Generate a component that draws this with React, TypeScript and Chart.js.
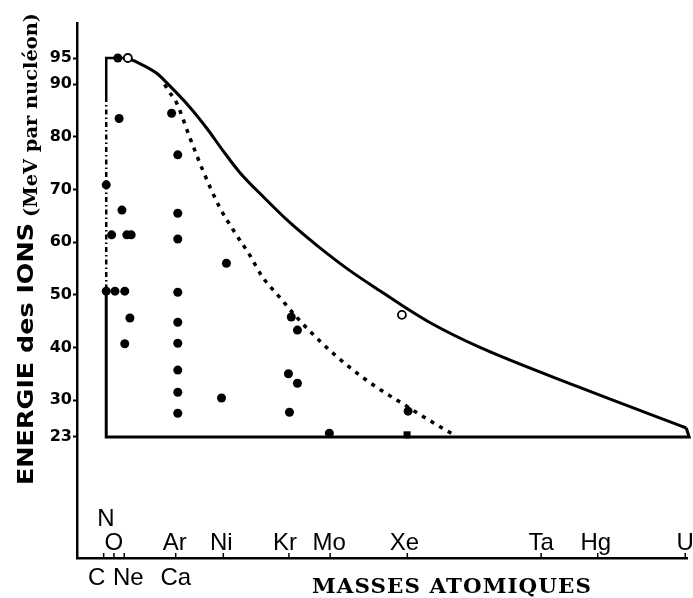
import React, { useEffect, useRef } from "react";
import { Chart, registerables } from "chart.js";

Chart.register(...registerables);

// ---------- data ----------
const Y_TICKS = [23, 30, 40, 50, 60, 70, 80, 90, 95];

const TICK_POS = [12, 16, 20, 40, 58.5, 84, 100, 130, 182, 204, 238];
const LABELS_ABOVE = ["N", "O", "Ar", "Ni", "Kr", "Mo", "Xe", "Ta", "Hg", "U"];
const LABELS_ABOVE_POS = [14, 16, 40, 58.5, 84, 100, 130, 182, 204, 238];
const LABELS_BELOW = ["C", "Ne", "Ca"];
const LABELS_BELOW_POS = [12, 20, 40];

const Y_TITLE_MAIN = "ENERGIE des IONS";
const Y_TITLE_UNIT = "(MeV par nucléon)";
const X_TITLE = "MASSES ATOMIQUES";

// upper envelope (solid curve)
const ENV_MASS = [21.4, 24.1, 32.6, 37.7, 45.4, 52.0, 58.2, 64.8, 74.5, 84.2, 94.6, 107.4, 120.2, 129.5, 139.6, 157.8, 196.5, 238.4];
const ENV_E = [95.0, 94.4, 92.1, 89.7, 85.7, 81.7, 77.5, 73.3, 68.4, 63.8, 59.5, 54.7, 50.5, 47.5, 44.5, 40.1, 32.5, 24.7];

// frame: top-left corner, left side, bottom line, right hook
const FRAME_TOP_MASS = [13, 13, 21.4];
const FRAME_TOP_E = [87.6, 95, 95];
const FRAME_DOT_MASS = [13, 13];
const FRAME_DOT_E = [87.6, 50.4];
const FRAME_LOW_MASS = [238.4, 239.5, 13, 13];
const FRAME_LOW_E = [24.7, 23, 23, 50.4];

// dotted curve
const DOT_MASS = [35.7, 37.0, 40.4, 45.4, 50.5, 57.0, 62.9, 68.7, 73.7, 80.3, 86.9, 96.9, 107.4, 117.9, 127.9, 138.4, 148.1];
const DOT_E = [90.0, 88.9, 86.4, 80.0, 73.7, 66.7, 61.9, 57.6, 53.4, 49.6, 45.8, 40.8, 36.3, 32.5, 29.4, 26.2, 23.4];

// measured points (filled)
const PTS_MASS = [17.5, 18.0, 13, 19.1, 15.1, 21.0, 22.7, 13, 16.4, 20.2, 22.2, 20.2,
  38.4, 40.8, 40.8, 40.8, 40.8, 40.8, 40.8, 40.8, 40.8, 40.8,
  59.7, 57.8, 84.9, 87.3, 83.8, 87.3, 84.2, 99.7, 130.3];
const PTS_E = [95, 83.5, 70.9, 66.1, 61.4, 61.4, 61.4, 50.7, 50.7, 50.7, 45.6, 40.7,
  84.5, 76.6, 65.5, 60.6, 50.5, 44.8, 40.8, 35.7, 31.5, 27.5,
  56.0, 30.4, 45.8, 43.3, 35.0, 33.2, 27.7, 23.7, 27.9];
// open circles
const OPEN_MASS = [21.4, 127.9];
const OPEN_E = [95.0, 46.2];
// square mark
const SQ_MASS = [129.9];
const SQ_E = [23.4];

const X_MIN = 1.64;
const X_MAX = 238.76;
const Y_MIN = 0;
const Y_MAX = 101.65;

const zip = (xs: number[], ys: number[]) => xs.map((x, i) => ({ x, y: ys[i] }));

const LABEL_DX: Record<string, number> = { N: -3, O: 0, Ar: -1, Ni: -2, Kr: -4, Mo: -1, Xe: -3, Ta: 0, Hg: -2, U: 0, C: -7, Ne: 4, Ca: 0 };

const textPlugin = {
  id: "textPlugin",
  afterDraw(chart: any) {
    const { ctx, scales } = chart;
    const xs = scales.x;
    const bottom = chart.chartArea.bottom;
    ctx.save();
    ctx.fillStyle = "#000";
    ctx.strokeStyle = "#000";
    // small tick marks on the x axis (pointing up)
    ctx.lineWidth = 1.5;
    TICK_POS.forEach((v) => {
      const px = xs.getPixelForValue(v);
      ctx.beginPath();
      ctx.moveTo(px, bottom);
      ctx.lineTo(px, bottom - 5);
      ctx.stroke();
    });
    // element labels
    ctx.font = '24px "Liberation Sans"';
    ctx.textAlign = "center";
    ctx.textBaseline = "alphabetic";
    LABELS_ABOVE.forEach((t, i) => {
      const px = xs.getPixelForValue(LABELS_ABOVE_POS[i]) + (LABEL_DX[t] || 0);
      ctx.fillText(t, px, t === "N" ? 526 : 550);
    });
    LABELS_BELOW.forEach((t, i) => {
      const px = xs.getPixelForValue(LABELS_BELOW_POS[i]) + (LABEL_DX[t] || 0);
      ctx.fillText(t, px, 585);
    });
    // x title
    ctx.font = 'bold 20px "DejaVu Serif"';
    try { (ctx as any).letterSpacing = "1px"; } catch (e) {}
    let w = ctx.measureText(X_TITLE).width;
    ctx.save();
    ctx.translate(452, 593);
    ctx.scale(280 / w, 1);
    ctx.fillText(X_TITLE, 0, 0);
    ctx.restore();
    try { (ctx as any).letterSpacing = "0px"; } catch (e) {}
    // y title
    ctx.textAlign = "left";
    ctx.save();
    ctx.translate(33, 485);
    ctx.rotate(-Math.PI / 2);
    ctx.font = 'bold 22px "DejaVu Sans"';
    w = ctx.measureText(Y_TITLE_MAIN).width;
    ctx.scale(262 / w, 1);
    ctx.fillText(Y_TITLE_MAIN, 0, 0);
    ctx.restore();
    ctx.save();
    ctx.translate(37, 217);
    ctx.rotate(-Math.PI / 2);
    ctx.font = 'bold 19px "DejaVu Serif"';
    w = ctx.measureText(Y_TITLE_UNIT).width;
    ctx.scale(204 / w, 1);
    ctx.fillText(Y_TITLE_UNIT, 0, 0);
    ctx.restore();
    ctx.restore();
  },
};

export default function App() {
  const ref = useRef<HTMLCanvasElement | null>(null);
  useEffect(() => {
    if (!ref.current) return;
    const lineBase = { showLine: true, pointRadius: 0, borderColor: "#000", fill: false, clip: false as any };
    const chart = new Chart(ref.current, {
      type: "scatter",
      data: {
        datasets: [
          { data: zip(OPEN_MASS, OPEN_E), pointRadius: 4, pointBackgroundColor: "#fff", pointBorderColor: "#000", pointBorderWidth: 1.8, clip: false as any },
          { data: zip(SQ_MASS, SQ_E), pointStyle: "rect", pointRadius: 5, pointBackgroundColor: "#000", pointBorderWidth: 0, clip: false as any },
          { data: zip(PTS_MASS, PTS_E), pointRadius: 4.5, pointBackgroundColor: "#000", pointBorderWidth: 0, clip: false as any },
          { ...lineBase, data: zip(ENV_MASS, ENV_E), borderWidth: 3, cubicInterpolationMode: "monotone" },
          { ...lineBase, data: zip(DOT_MASS, DOT_E), borderWidth: 3.5, cubicInterpolationMode: "monotone", borderDash: [4, 6] },
          { ...lineBase, data: zip(FRAME_TOP_MASS, FRAME_TOP_E), borderWidth: 2.5, tension: 0 },
          { ...lineBase, data: zip(FRAME_DOT_MASS, FRAME_DOT_E), borderWidth: 2.5, tension: 0, borderDash: [5, 3, 1.5, 3] },
          { ...lineBase, data: zip(FRAME_LOW_MASS, FRAME_LOW_E), borderWidth: 3, tension: 0 },
        ] as any,
      },
      options: {
        animation: false,
        responsive: false,
        devicePixelRatio: 1,
        layout: { padding: { top: 23, right: 4, left: 0, bottom: 0 } },
        plugins: { legend: { display: false }, tooltip: { enabled: false } },
        scales: {
          x: {
            type: "linear",
            min: X_MIN,
            max: X_MAX,
            afterFit: (s: any) => { s.height = 40; },
            afterBuildTicks: (s: any) => { s.ticks = TICK_POS.map((v) => ({ value: v })); },
            ticks: { display: false },
            grid: { display: false, drawTicks: false },
            border: { display: true, color: "#000", width: 2.5 },
          },
          y: {
            type: "linear",
            min: Y_MIN,
            max: Y_MAX,
            afterFit: (s: any) => { s.width = 77; },
            afterBuildTicks: (s: any) => { s.ticks = Y_TICKS.map((v) => ({ value: v })); },
            ticks: {
              autoSkip: false,
              color: "#000",
              padding: 1,
              font: { family: "DejaVu Sans", weight: "bold", size: 16 },
              callback: (v: any) => String(v),
            },
            grid: { drawOnChartArea: false, drawTicks: true, tickLength: 4, tickWidth: 2, tickColor: "#000", color: "#000" },
            border: { display: true, color: "#000", width: 2.5 },
          },
        },
      } as any,
      plugins: [textPlugin],
    });
    return () => chart.destroy();
  }, []);
  return (
    <div style={{ position: "absolute", left: 0, top: 0, width: 693, height: 598, background: "#fff" }}>
      <canvas ref={ref} width={693} height={598} style={{ display: "block" }} />
    </div>
  );
}
